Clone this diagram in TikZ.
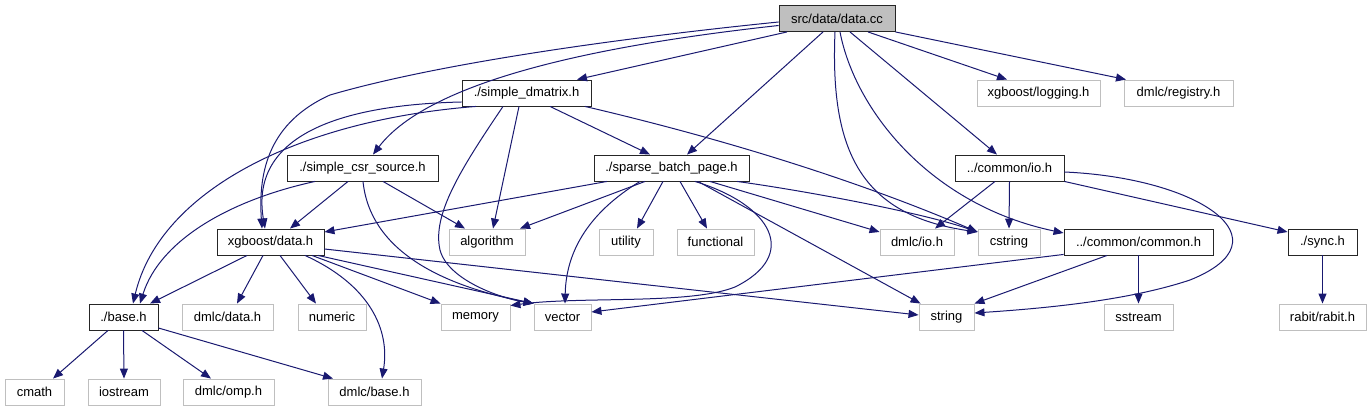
\documentclass[tikz,border=0pt]{standalone}
\usepackage{fontspec}
\setmainfont{Liberation Sans}
\usetikzlibrary{arrows.meta}
\definecolor{edgeblue}{HTML}{191970}
\definecolor{grey75}{HTML}{BFBFBF}
\tikzset{
  base/.style={draw, line width=0.9pt, inner sep=0pt, minimum height=26pt, font=\fontsize{13pt}{15pt}\selectfont, text=black, anchor=center},
  doc/.style={base, draw=black!85},
  ext/.style={base, draw=grey75},
  root/.style={base, draw=black!85, fill=grey75},
  edge/.style={draw=edgeblue, line width=1pt, -{Triangle[length=10pt,width=8pt]}},
}
\begin{document}
\begin{tikzpicture}[x=1pt,y=-1pt]
\useasboundingbox (0,0) rectangle (1371,411);
% row 0
\node[root, minimum width=116pt] (dc) at (837,18.5) {src/data/data.cc};
% row 1
\node[doc, minimum width=129pt] (sdm) at (526.5,93) {./simple\_dmatrix.h};
\node[ext, minimum width=123pt] (lg) at (1038.5,93) {xgboost/logging.h};
\node[ext, minimum width=109pt] (reg) at (1178.5,93) {dmlc/registry.h};
% row 2
\node[doc, minimum width=151pt] (scsr) at (362.5,168) {./simple\_csr\_source.h};
\node[doc, minimum width=155pt] (sbp) at (671.5,168) {./sparse\_batch\_page.h};
\node[doc, minimum width=109pt] (cio) at (1009.5,168) {../common/io.h};
% row 3
\node[doc, minimum width=107pt] (xd) at (270.5,242) {xgboost/data.h};
\node[ext, minimum width=76pt] (alg) at (487,242) {algorithm};
\node[ext, minimum width=54pt] (util) at (626,242) {utility};
\node[ext, minimum width=77pt] (func) at (715.5,242) {functional};
\node[ext, minimum width=74pt] (dio) at (917,242) {dmlc/io.h};
\node[ext, minimum width=62pt] (cstr) at (1009,242) {cstring};
\node[doc, minimum width=149pt] (cc) at (1138.5,242) {../common/common.h};
\node[doc, minimum width=69pt] (sync) at (1322.5,242) {./sync.h};
% row 4
\node[doc, minimum width=69pt] (bh) at (123.5,317) {./base.h};
\node[ext, minimum width=91pt] (ddata) at (227.5,317) {dmlc/data.h};
\node[ext, minimum width=68pt] (num) at (332,317) {numeric};
\node[ext, minimum width=69pt] (mem) at (475.5,317) {memory};
\node[ext, minimum width=57pt] (vec) at (562.5,317) {vector};
\node[ext, minimum width=55pt] (str) at (946.5,317) {string};
\node[ext, minimum width=69pt] (sstr) at (1138.5,317) {sstream};
\node[ext, minimum width=87pt] (rab) at (1322.5,317) {rabit/rabit.h};
% row 5
\node[ext, minimum width=59pt] (cmath) at (34.5,392) {cmath};
\node[ext, minimum width=72pt] (ios) at (124,392) {iostream};
\node[ext, minimum width=91pt] (omp) at (228.5,392) {dmlc/omp.h};
\node[ext, minimum width=93pt] (dbase) at (374.5,392) {dmlc/base.h};

% edges from data.cc
\draw[edge] ([xshift=-50pt]dc.south) -- ([xshift=50.5pt]sdm.north);
\draw[edge] ([yshift=-3.5pt]dc.west) .. controls (650,35) and (450,60) .. (330,95) .. controls (270,122) and (258,170) .. ([xshift=-8.5pt]xd.north);
\draw[edge] ([yshift=-7pt]dc.west) .. controls (600,45) and (430,80) .. ([xshift=10.5pt]scsr.north);
\draw[edge] ([xshift=-14pt]dc.south) -- ([xshift=15.5pt]sbp.north);
\draw[edge] ([xshift=-2pt]dc.south) .. controls (830,150) and (860,215) .. ([yshift=10pt]cstr.west);
\draw[edge] ([xshift=3pt]dc.south) .. controls (855,110) and (930,205) .. ([yshift=9pt]cc.west);
\draw[edge] ([xshift=13pt]dc.south) -- ([xshift=-12.5pt]cio.north);
\draw[edge] ([xshift=31pt]dc.south) -- ([xshift=-31.5pt]lg.north);
\draw[edge] (dc.south east) -- ([xshift=-52.5pt]reg.north);

% edges from simple_dmatrix.h
\draw[edge] ([xshift=23.5pt]sdm.south) -- ([xshift=-21.5pt]sbp.north);
\draw[edge] ([yshift=-9pt]sdm.west) .. controls (330,105) and (250,140) .. ([xshift=-5.5pt]xd.north);
\draw[edge] ([xshift=-50.5pt]sdm.south) .. controls (300,120) and (160,190) .. ([xshift=9.5pt]bh.north);
\draw[edge] ([xshift=-7.5pt]sdm.south) -- ([xshift=6pt]alg.north);
\draw[edge] ([xshift=-23.5pt]sdm.south) .. controls (460,170) and (432,215) .. (440,250) .. controls (448,280) and (500,298) .. (vec.north west);
\draw[edge] ([xshift=58.5pt]sdm.south) .. controls (750,145) and (880,190) .. ([yshift=10pt]cstr.west);

% edges from simple_csr_source.h
\draw[edge] ([xshift=-47.5pt]scsr.south) .. controls (230,200) and (160,240) .. ([xshift=16.5pt]bh.north);
\draw[edge] ([xshift=-14.5pt]scsr.south) -- ([xshift=19.5pt]xd.north);
\draw[edge] ([xshift=20.5pt]scsr.south) -- ([xshift=-22pt]alg.north);
\draw[edge] ([xshift=0.5pt]scsr.south) .. controls (370,250) and (440,285) .. (vec.north west);

% edges from sparse_batch_page.h
\draw[edge] ([xshift=-64.5pt]sbp.south) -- ([yshift=10pt]xd.east);
\draw[edge] ([xshift=-26.5pt]sbp.south) -- ([xshift=33pt]alg.north);
\draw[edge] ([xshift=-31.5pt]sbp.south) .. controls (585,215) and (566,255) .. ([xshift=2.5pt]vec.north);
\draw[edge] ([xshift=-8.5pt]sbp.south) -- ([xshift=11pt]util.north);
\draw[edge] ([xshift=8.5pt]sbp.south) -- ([xshift=-8.5pt]func.north);
\draw[edge] ([xshift=23.5pt]sbp.south) .. controls (772,205) and (800,255) .. (735,287) .. controls (690,305) and (580,296) .. ([yshift=-2pt]mem.north east);
\draw[edge] ([xshift=26.5pt]sbp.south) -- ([xshift=2pt]str.north west);
\draw[edge] ([xshift=38.5pt]sbp.south) -- ([yshift=10pt]dio.west);
\draw[edge] ([xshift=65.5pt]sbp.south) .. controls (800,190) and (920,212) .. ([yshift=10pt]cstr.west);

% edges from ../common/io.h
\draw[edge] ([xshift=-14.5pt]cio.south) -- ([xshift=18pt]dio.north);
\draw[edge] (cio.south) -- (cstr.north);
\draw[edge] (cio.south east) -- ([yshift=10pt]sync.west);
\draw[edge] ([yshift=-4pt]cio.east) .. controls (1200,178) and (1290,240) .. (1190,280) .. controls (1130,300) and (1050,308) .. ([yshift=4pt]str.east);

% edges from ../common/common.h
\draw[edge] ([yshift=1pt]cc.south west) -- ([yshift=5pt]vec.east);
\draw[edge] ([xshift=-31.5pt]cc.south) -- (str.north east);
\draw[edge] (cc.south) -- (sstr.north);

% ./sync.h
\draw[edge] (sync.south) -- (rab.north);

% edges from xgboost/data.h
\draw[edge] ([xshift=-23.5pt]xd.south) -- ([xshift=26.5pt]bh.north);
\draw[edge] ([xshift=-7.5pt]xd.south) -- ([xshift=9.5pt]ddata.north);
\draw[edge] ([xshift=9.5pt]xd.south) -- ([xshift=-16pt]num.north);
\draw[edge] ([xshift=34.5pt]xd.south) .. controls (370,285) and (390,330) .. ([xshift=7.5pt]dbase.north);
\draw[edge] ([xshift=41.5pt]xd.south) -- (mem.north west);
\draw[edge] ([xshift=47.5pt]xd.south) -- (vec.north west);
\draw[edge] ([yshift=-7pt]xd.east) -- ([yshift=2pt]str.west);

% edges from ./base.h
\draw[edge] ([xshift=-15.5pt]bh.south) -- ([xshift=18.5pt]cmath.north);
\draw[edge] (bh.south) -- (ios.north);
\draw[edge] ([xshift=18.5pt]bh.south) -- ([xshift=-17.5pt]omp.north);
\draw[edge] ([yshift=-11pt]bh.east) -- ([xshift=-41.5pt]dbase.north);
\end{tikzpicture}
\end{document}
